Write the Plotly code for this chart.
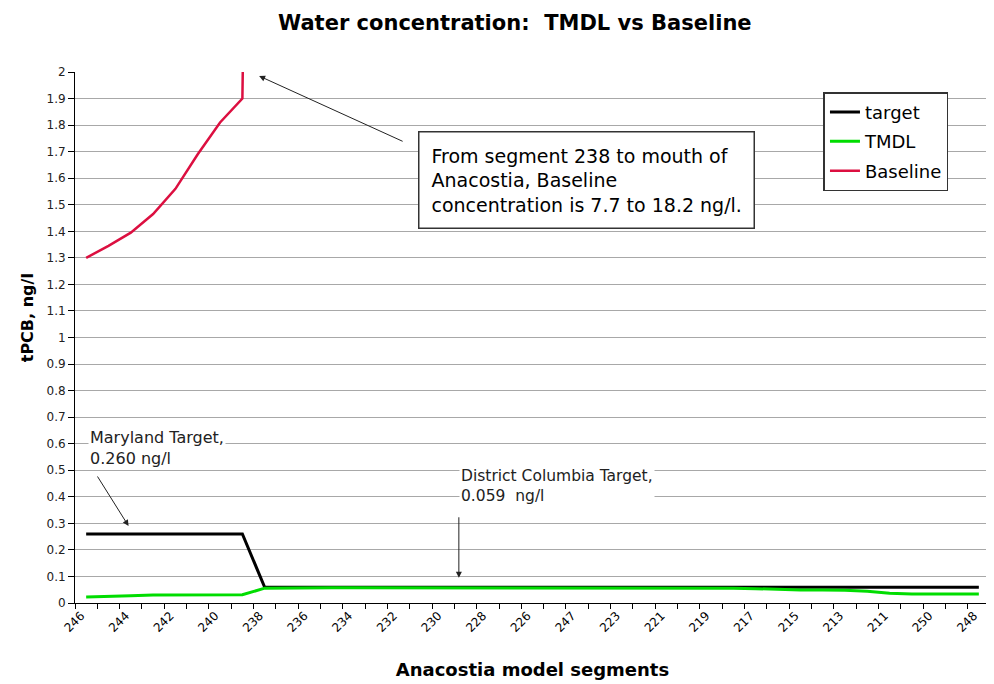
import plotly.graph_objects as go

# =========================================================
# DATA
# =========================================================

segments = ["246", "245", "244", "243", "242", "241", "240", "239", "238", "237",
            "236", "235", "234", "233", "232", "231", "230", "229", "228", "227",
            "226", "225", "247", "224", "223", "222", "221", "220", "219", "218",
            "217", "216", "215", "214", "213", "212", "211", "210", "250", "249",
            "248"]

target = [0.26, 0.26, 0.26, 0.26, 0.26, 0.26, 0.26, 0.26, 0.059, 0.059,
          0.059, 0.059, 0.059, 0.059, 0.059, 0.059, 0.059, 0.059, 0.059, 0.059,
          0.059, 0.059, 0.059, 0.059, 0.059, 0.059, 0.059, 0.059, 0.059, 0.059,
          0.059, 0.059, 0.059, 0.059, 0.059, 0.059, 0.059, 0.059, 0.059, 0.059,
          0.059]

tmdl = [0.023, 0.024, 0.027, 0.030, 0.030, 0.030, 0.030, 0.031, 0.056, 0.057,
        0.057, 0.057, 0.057, 0.057, 0.057, 0.057, 0.057, 0.057, 0.057, 0.057,
        0.057, 0.057, 0.057, 0.057, 0.057, 0.057, 0.057, 0.057, 0.057, 0.056,
        0.054, 0.051, 0.049, 0.049, 0.048, 0.044, 0.037, 0.034, 0.034, 0.034,
        0.034]

baseline = [1.30, 1.345, 1.395, 1.465, 1.56, 1.69, 1.81, 1.90, 7.7, 8.1,
            8.5, 8.9, 9.3, 9.6, 10.0, 10.3, 10.7, 11.0, 11.4, 11.7,
            12.0, 12.3, 12.6, 12.9, 13.2, 13.5, 13.8, 14.1, 14.4, 14.7,
            15.0, 15.3, 15.6, 15.9, 16.2, 16.5, 16.8, 17.2, 17.6, 17.9,
            18.2]

xpos = list(range(len(segments)))
label_idx = xpos[::2]

FONT = "DejaVu Sans"

# =========================================================
# FIGURE  (page body has an 8px margin -> figure is 986x676)
# =========================================================

fig = go.Figure()

fig.add_trace(go.Scatter(x=xpos, y=target, mode="lines", name="target",
                         legendgroup="a",
                         line=dict(color="#000000", width=3)))
fig.add_trace(go.Scatter(x=xpos, y=tmdl, mode="lines", name="TMDL",
                         legendgroup="b",
                         line=dict(color="#00dd00", width=3)))
fig.add_trace(go.Scatter(x=xpos, y=baseline, mode="lines", name="Baseline",
                         legendgroup="c",
                         line=dict(color="#dc0f40", width=2.5)))

# notes
fig.add_annotation(xref="paper", yref="paper", x=0.5585, y=0.7966,
                   xanchor="center", yanchor="middle", align="left",
                   text="From segment 238 to mouth of<br>Anacostia, Baseline<br>"
                        "concentration is 7.7 to 18.2 ng/l.",
                   showarrow=False, font=dict(family=FONT, size=19, color="black"),
                   bgcolor="white", bordercolor="#333333", borderwidth=1.5,
                   borderpad=12)
fig.add_annotation(xref="x", yref="y", x=7.75, y=1.985, text="",
                   showarrow=True, arrowhead=2, arrowsize=1.2, arrowwidth=1,
                   arrowcolor="#222222", ax=145, ay=66)

fig.add_annotation(xref="x", yref="y", x=0.07, y=0.665, xanchor="left",
                   yanchor="top", align="left",
                   text="Maryland Target,<br>0.260 ng/l", showarrow=False,
                   font=dict(family=FONT, size=16, color="#222222"),
                   bgcolor="white")
fig.add_annotation(xref="x", yref="y", x=1.9, y=0.29, text="",
                   showarrow=True, arrowhead=2, arrowsize=1.2, arrowwidth=1,
                   arrowcolor="#222222", ax=-32, ay=-51)

fig.add_annotation(xref="x", yref="y", x=16.7, y=0.52, xanchor="left",
                   yanchor="top", align="left",
                   text="District Columbia Target,<br>0.059  ng/l",
                   showarrow=False,
                   font=dict(family=FONT, size=15.5, color="#222222"),
                   bgcolor="white")
fig.add_annotation(xref="x", yref="y", x=16.7, y=0.095, text="",
                   showarrow=True, arrowhead=2, arrowsize=1.2, arrowwidth=1,
                   arrowcolor="#222222", ax=0, ay=-62)

# y axis title (placed a little above the axis centre, as in the source)
fig.add_annotation(xref="paper", yref="paper", x=-0.052, y=0.537,
                   xanchor="center", yanchor="middle", textangle=-90,
                   text="<b>tPCB, ng/l</b>", showarrow=False,
                   font=dict(family=FONT, size=16, color="black"))

fig.update_layout(
    width=986, height=676,
    margin=dict(l=67, r=4, t=64, b=81, autoexpand=False),
    paper_bgcolor="white", plot_bgcolor="white",
    font=dict(family=FONT, color="black"),
    title=dict(text="<b>Water concentration:  TMDL vs Baseline</b>",
               x=0.514, xanchor="center", y=0.979, yanchor="middle",
               font=dict(family=FONT, size=21, color="black")),
    legend=dict(x=0.818, y=0.962, xanchor="left", yanchor="top",
                bgcolor="white", bordercolor="#333333", borderwidth=1.5,
                font=dict(family=FONT, size=18, color="black"),
                tracegroupgap=3),
    showlegend=True,
)

fig.update_xaxes(
    range=[-0.5, 40.5], automargin=False,
    tickmode="array", tickvals=label_idx,
    ticktext=[segments[i] for i in label_idx],
    tickangle=-45, ticks="", ticklabelshift=-5,
    tickfont=dict(family=FONT, size=12, color="black"),
    showgrid=False, zeroline=False,
    showline=True, linecolor="black", linewidth=1,
    minor=dict(tick0=-0.5, dtick=1, ticks="outside", ticklen=5,
               tickcolor="black", showgrid=False),
    title=dict(text="<b>Anacostia model segments</b>",
               font=dict(family=FONT, size=18, color="black"), standoff=29),
)

fig.update_yaxes(
    range=[0, 2], dtick=0.1, tick0=0, automargin=False,
    ticks="outside", ticklen=6, tickcolor="black",
    tickfont=dict(family=FONT, size=12, color="#222222"),
    showgrid=True, gridcolor="#a8a8a8", gridwidth=1, zeroline=False,
    showline=True, linecolor="black", linewidth=1,
)

fig.write_html("out.html")
